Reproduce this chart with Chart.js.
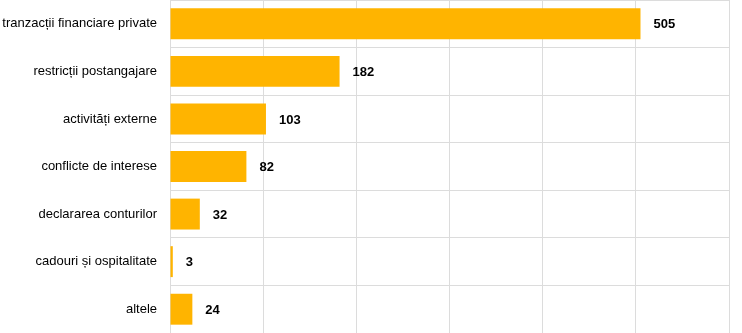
<!DOCTYPE html>
<html>
<head>
<meta charset="utf-8">
<script src="https://cdn.jsdelivr.net/npm/chart.js@4/dist/chart.umd.min.js"></script>
<style>
  html, body { margin: 0; padding: 0; background: #fff; }
  #wrap { width: 742px; height: 333px; }
</style>
</head>
<body>
<div id="wrap"><canvas id="chart"></canvas></div>
<script>
const categories = [
    'tranzacții financiare private',
    'restricții postangajare',
    'activități externe',
    'conflicte de interese',
    'declararea conturilor',
    'cadouri și ospitalitate',
    'altele'
];
const values = [505, 182, 103, 82, 32, 3, 24];
const xTicks = [0, 100, 200, 300, 400, 500, 600];

// bold numbers right of each bar
const valueLabels = {
    id: 'valueLabels',
    afterDatasetsDraw(chart) {
        const ctx = chart.ctx;
        const meta = chart.getDatasetMeta(0);
        ctx.save();
        ctx.font = 'bold 13px "Liberation Sans", Arial, sans-serif';
        ctx.fillStyle = '#000';
        ctx.textAlign = 'left';
        ctx.textBaseline = 'middle';
        meta.data.forEach((bar, i) => {
            ctx.fillText(String(values[i]), bar.x + 13, bar.y + 1);
        });
        ctx.restore();
    }
};

new Chart(document.getElementById('chart'), {
    type: 'bar',
    data: {
        labels: categories,
        datasets: [{
            data: values,
            backgroundColor: '#FFB400',
            borderWidth: 0,
            categoryPercentage: 1,
            barPercentage: 0.65
        }]
    },
    plugins: [valueLabels],
    options: {
        indexAxis: 'y',
        responsive: true,
        maintainAspectRatio: false,
        animation: false,
        layout: { padding: { top: 0, right: 13, bottom: 0, left: 0 } },
        plugins: {
            legend: { display: false },
            tooltip: { enabled: false }
        },
        scales: {
            x: {
                min: xTicks[0],
                max: xTicks[xTicks.length - 1],
                afterBuildTicks: (axis) => { axis.ticks = xTicks.map(v => ({ value: v })); },
                afterFit: (axis) => { axis.height = 0; },
                ticks: { display: false },
                grid: { color: '#dcdcdc', drawTicks: false },
                border: { display: false }
            },
            y: {
                afterFit: (axis) => {
                    axis.width = 170;
                    axis.paddingTop = 0;
                    axis.paddingBottom = 0;
                },
                ticks: {
                    padding: 0,
                    color: '#000',
                    font: { family: '"Liberation Sans", Arial, sans-serif', size: 13 }
                },
                grid: { color: '#dcdcdc', drawTicks: true, tickLength: 13, tickColor: 'rgba(0,0,0,0)', offset: true },
                border: { color: '#dcdcdc' }
            }
        }
    }
});
</script>
</body>
</html>
